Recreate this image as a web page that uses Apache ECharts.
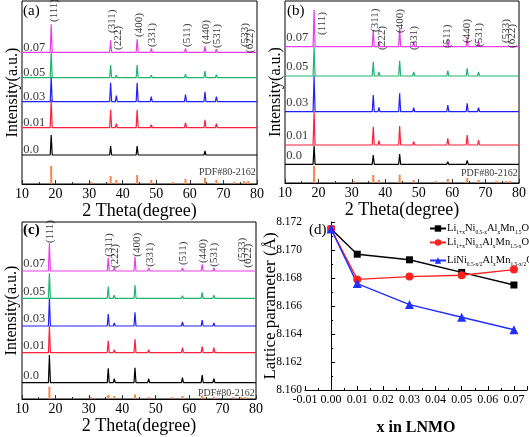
<!DOCTYPE html>
<html><head><meta charset="utf-8">
<script src="https://cdn.jsdelivr.net/npm/echarts@6/dist/echarts.min.js"></script>
<style>html,body{margin:0;padding:0;background:#fff}#c{width:529px;height:437px}</style>
</head><body><div id="c"></div>
<script>
// ---------- data ----------
const samples = ['0.07', '0.05', '0.03', '0.01', '0.0'];
const hkl = ['(111)', '(311)', '(222)', '(400)', '(331)', '(511)', '(440)', '(531)', '(533)', '(622)'];
const peakPosAB = [18.7, 36.4, 38.1, 44.3, 48.5, 58.7, 64.5, 67.9, 76.2, 77.4];
const peakPosC = [18.2, 35.8, 37.6, 43.8, 47.9, 58.0, 63.9, 67.4, 75.6, 76.8];
const pdfExtraPos = [30.6, 55.0, 73.2];

// panel (a)
const aBase = [131.7, 106.3, 82.3, 56.3, 29];
const aHeights = [
  [28, 12, 2, 13, 4, 4, 6, 3, 1, 1],
  [26, 12.7, 2.5, 12.7, 2.5, 3.5, 6.7, 3, 1, 1],
  [25, 19, 6, 19, 5, 7, 10, 5, 1.5, 1.5],
  [28, 18, 4, 18, 3, 5, 8, 4, 1, 1],
  [20, 9, 2, 9, 2, 2, 4, 2, 1, 1]
];
const aPdf = [18, 8, 4, 9, 4, 5, 6, 4, 3, 3];
const aPdfExtra = [2, 2, 2];
const aHklX = [19.7, 36.8, 38.6, 44.9, 48.7, 59.1, 64.8, 68.1, 76.4, 77.9];
const aHklY = [162, 151, 134, 147, 137, 137, 140, 136, 137, 131];

// panel (b)
const bBase = [136.3, 107, 71.3, 38, 18.7];
const bHeights = [
  [37, 16.7, 5, 18.3, 5, 7.3, 9.3, 6, 2, 2],
  [29.3, 14.3, 4, 15.3, 4, 5.3, 7.7, 4, 1.5, 1.5],
  [35.7, 16.7, 4.3, 18.3, 4, 6.7, 8.3, 4, 1.5, 1.5],
  [33.3, 18.3, 4.3, 19, 3.5, 6.7, 10, 5, 1.5, 1.5],
  [18.7, 9.3, 2, 10.3, 2, 2.5, 4, 2, 1, 1]
];
const bPdf = [17, 8, 3, 8.3, 3, 4, 5, 3, 2, 2];
const bPdfExtra = [2, 2, 2];
const bHklX = [21.1, 37.0, 39.0, 44.5, 48.6, 58.6, 64.5, 68.1, 76.2, 78.0];
const bHklY = [148, 151, 133, 150, 133, 135, 140, 136, 140, 135];

// panel (c)
const cBase = [128, 100.7, 73, 46.3, 16.3];
const cHeights = [
  [27.7, 13.3, 3.3, 14.3, 3, 3, 6.7, 3, 1, 1],
  [25, 11.7, 3, 13.3, 2, 2.7, 6, 3, 1, 1],
  [27.7, 12, 3, 13.7, 2, 4, 6, 3, 1.5, 1.5],
  [26.7, 12, 3, 13.7, 3, 5, 6, 5, 1, 1],
  [27.7, 14.3, 4, 15, 4, 5, 7.7, 4, 1, 1]
];
const cPdf = [12.3, 4, 3, 4.5, 2, 3, 3.5, 2, 2, 2];
const cPdfExtra = [2, 2, 2];
const cHklX = [18.4, 36.1, 37.9, 44.3, 48.3, 58.2, 64.1, 67.6, 75.9, 77.6];
const cHklY = [156, 142.3, 131, 142.3, 132.3, 134, 136, 132.3, 137.3, 131.3];

// panel (d)
const dX = [0.00, 0.01, 0.03, 0.05, 0.07];
const dBlack = [8.1715, 8.1697, 8.1693, 8.1684, 8.1675];
const dRed = [8.1715, 8.1679, 8.1681, 8.1682, 8.1686];
const dBlue = [8.1715, 8.1676, 8.1661, 8.1652, 8.1643];
const xrdTicks = [10, 20, 30, 40, 50, 60, 70, 80];

// ---------- styles ----------
const FONT = 'Liberation Serif, Times New Roman, serif';
const sampleColors = ['#ea3dea', '#1fb56e', '#1f1fff', '#ff1f3d', '#000000'];
const pdfColor = '#f5854a';

const grids = [], xAxes = [], yAxes = [], series = [];

function xrdLine(base, heights, pos) {
  const d = [[xrdTicks[0], base]];
  pos.forEach((p, i) => { d.push([p - 0.3, base], [p, base + heights[i]], [p + 0.3, base]); });
  d.push([xrdTicks[xrdTicks.length - 1], base]);
  return d;
}

function xrdPanel(idx, g, cfg) {
  grids.push({left: g.left, top: g.top, width: g.width, height: g.height, show: true,
    borderColor: '#000', borderWidth: 1, backgroundColor: 'transparent'});
  xAxes.push({gridIndex: idx, type: 'value', min: 10, max: 80, interval: 10,
    axisLine: {lineStyle: {color: '#000', width: 1}},
    axisTick: {inside: true, length: 4, lineStyle: {color: '#333'}},
    minorTick: {show: true, splitNumber: 2, length: 2, lineStyle: {color: '#333'}},
    splitLine: {show: false},
    axisLabel: {color: '#000', fontFamily: FONT, fontSize: 14, margin: 3},
    name: '2 Theta(degree)', nameLocation: 'middle', nameGap: g.nameGap,
    nameTextStyle: {color: '#000', fontFamily: FONT, fontSize: 18}});
  yAxes.push({gridIndex: idx, type: 'value', min: 0, max: g.height,
    axisLine: {show: false}, axisTick: {show: false}, axisLabel: {show: false}, splitLine: {show: false},
    name: 'Intensity(a.u.)', nameLocation: 'middle', nameGap: g.yGap,
    nameTextStyle: {color: '#000', fontFamily: FONT, fontSize: 16}});
  // PDF reference bars
  const pdfData = cfg.pos.map((p, i) => [p, cfg.pdf[i]]).concat(pdfExtraPos.map((p, i) => [p, cfg.pdfExtra[i]]));
  series.push({type: 'bar', xAxisIndex: idx, yAxisIndex: idx, data: pdfData, barWidth: 2,
    itemStyle: {color: pdfColor}, silent: true, z: 1});
  // patterns (bottom first)
  for (let s = samples.length - 1; s >= 0; s--) {
    series.push({type: 'line', xAxisIndex: idx, yAxisIndex: idx, symbol: 'none', silent: true,
      data: xrdLine(cfg.base[s], cfg.heights[s], cfg.pos),
      lineStyle: {color: sampleColors[s], width: 1.2}, z: 2 + (samples.length - s)});
  }
  // sample labels
  series.push({type: 'scatter', xAxisIndex: idx, yAxisIndex: idx, symbolSize: 0, silent: true, z: 20,
    data: samples.map((n, s) => ({name: n, value: [10.4, cfg.base[s] + g.lblGap]})),
    label: {show: true, formatter: '{b}', position: 'right', distance: 0,
      color: '#000', fontFamily: FONT, fontSize: 12.5}});
  // hkl labels
  series.push({type: 'scatter', xAxisIndex: idx, yAxisIndex: idx, symbolSize: 0, silent: true, z: 20,
    data: hkl.map((n, i) => ({name: n, value: [cfg.hklX[i], cfg.hklY[i]]})),
    label: {show: true, formatter: '{b}', position: 'inside', rotate: 90, align: 'left', verticalAlign: 'middle',
      color: '#000', fontFamily: FONT, fontSize: 11}});
  // PDF label
  series.push({type: 'scatter', xAxisIndex: idx, yAxisIndex: idx, symbolSize: 0, silent: true, z: 20,
    data: [{name: 'PDF#80-2162', value: [79.6, g.pdfY]}],
    label: {show: true, formatter: '{b}', position: 'inside', align: 'right', verticalAlign: 'middle',
      color: '#000', fontFamily: FONT, fontSize: 10}});
}

xrdPanel(0, {left: 22, top: 1, width: 235, height: 183, nameGap: 15, yGap: 1, lblGap: 5, pdfY: 11.7},
  {base: aBase, heights: aHeights, pos: peakPosAB, pdf: aPdf, pdfExtra: aPdfExtra, hklX: aHklX, hklY: aHklY});
xrdPanel(1, {left: 285, top: 1, width: 235, height: 182, nameGap: 14, yGap: 1, lblGap: 9, pdfY: 9.4},
  {base: bBase, heights: bHeights, pos: peakPosAB, pdf: bPdf, pdfExtra: bPdfExtra, hklX: bHklX, hklY: bHklY});
xrdPanel(2, {left: 22, top: 222, width: 234, height: 177, nameGap: 17, yGap: 2, lblGap: 7, pdfY: 5.7},
  {base: cBase, heights: cHeights, pos: peakPosC, pdf: cPdf, pdfExtra: cPdfExtra, hklX: cHklX, hklY: cHklY});

// panel (d)
grids.push({left: 305, top: 222, width: 222, height: 186});
xAxes.push({gridIndex: 3, type: 'value', min: -0.01, max: 0.075, interval: 0.01,
  axisLine: {lineStyle: {color: '#000', width: 1}},
  axisTick: {inside: true, length: 4, lineStyle: {color: '#000'}},
  minorTick: {show: true, splitNumber: 2, length: 2, lineStyle: {color: '#000'}},
  splitLine: {show: false},
  axisLabel: {color: '#000', fontFamily: FONT, fontSize: 12, margin: 4, showMaxLabel: false,
    formatter: v => v.toFixed(2)},
  name: 'x in LNMO', nameLocation: 'middle', nameGap: 30, nameMoveOverlap: false,
  nameTextStyle: {color: '#000', fontFamily: FONT, fontSize: 16, fontWeight: 'bold'}});
yAxes.push({gridIndex: 3, type: 'value', min: 8.160, max: 8.172, interval: 0.002,
  axisLine: {show: true, lineStyle: {color: '#000', width: 1}},
  axisTick: {show: true, inside: true, length: 4, lineStyle: {color: '#000'}},
  minorTick: {show: true, splitNumber: 2, length: 2, lineStyle: {color: '#000'}},
  splitLine: {show: false},
  axisLabel: {color: '#000', fontFamily: FONT, fontSize: 11.5, margin: 3, formatter: v => v.toFixed(3)},
  name: 'Lattice parameter (Å)', nameLocation: 'middle', nameGap: 26, nameMoveOverlap: false,
  nameTextStyle: {color: '#000', fontFamily: FONT, fontSize: 17}});

const dSeries = [
  {name: 'A', vals: dBlack, color: '#000000', symbol: 'rect', size: 7},
  {name: 'B', vals: dRed, color: '#ff2020', symbol: 'circle', size: 8},
  {name: 'C', vals: dBlue, color: '#2030ff', symbol: 'triangle', size: 9}
];
dSeries.forEach(s => series.push({type: 'line', name: s.name, xAxisIndex: 3, yAxisIndex: 3,
  data: dX.map((x, i) => [x, s.vals[i]]), symbol: s.symbol, symbolSize: s.size,
  lineStyle: {color: s.color, width: 1.4}, itemStyle: {color: s.color}, z: 5}));

const legendText = {
  A: '{m|Li}{s|1+x}{m|Ni}{s|0.5-x}{m|Al}{s|x}{m|Mn}{s|1.5}{m|O}{s|4}',
  B: '{m|Li}{s|1+x}{m|Ni}{s|0.5}{m|Al}{s|x}{m|Mn}{s|1.5-x}{m|O}{s|4}',
  C: '{m|LiNi}{s|0.5-x/2}{m|Al}{s|x}{m|Mn}{s|1.5-x/2}{m|O}{s|4}'
};
const rich = {
  m: {fontFamily: FONT, fontSize: 10.5, color: '#000', lineHeight: 14, verticalAlign: 'middle'},
  s: {fontFamily: FONT, fontSize: 5.5, color: '#000', lineHeight: 7, verticalAlign: 'bottom'}
};
const legendTops = [223, 237, 255];
const legends = ['A', 'B', 'C'].map((n, i) => ({data: [n], left: 429, top: legendTops[i], padding: 0,
  itemWidth: 16, itemHeight: 8, itemGap: 0, formatter: nm => legendText[nm],
  textStyle: {rich: rich, padding: [0, 0, 0, -4]}, selectedMode: false}));

const chart = echarts.init(document.getElementById('c'), null, {renderer: 'canvas'});
chart.setOption({
  animation: false,
  backgroundColor: '#fff',
  grid: grids, xAxis: xAxes, yAxis: yAxes, series: series, legend: legends,
  graphic: [
    {type: 'text', left: 23, top: 4, style: {text: '(a)', font: '15px ' + FONT, fill: '#000'}},
    {type: 'text', left: 287, top: 4, style: {text: '(b)', font: '15px ' + FONT, fill: '#000'}},
    {type: 'text', left: 23, top: 223, style: {text: '(c)', font: 'bold 15px ' + FONT, fill: '#000'}},
    {type: 'text', left: 309, top: 223, style: {text: '(d)', font: '15px ' + FONT, fill: '#000'}}
  ]
});
</script></body></html>
